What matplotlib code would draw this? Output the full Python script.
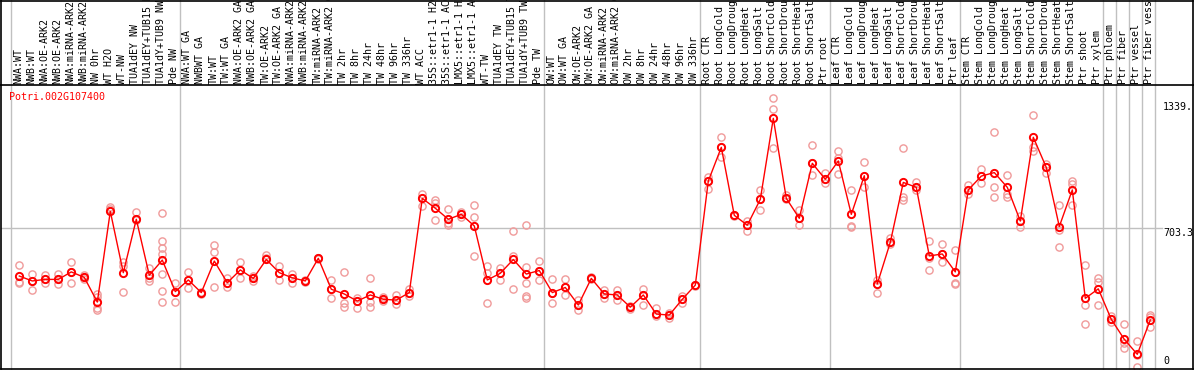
import matplotlib
matplotlib.use("Agg")
import matplotlib.pyplot as plt
from matplotlib.lines import Line2D
import matplotlib.transforms as mtransforms

gene_id = "Potri.002G107400"

samples = [
    "NWA:WT", "NWB:WT", "NWA:OE-ARK2", "NWB:OE-ARK2", "NWA:miRNA-ARK2", "NWB:miRNA-ARK2",
    "NW 0hr", "WT H2O", "WT-NW", "TUA1dEY NW", "TUA1dEY+TUB15 NW", "TUA1dY+TUB9 NW", "Pde NW",
    "NWA:WT GA", "NWBWT GA", "TW:WT", "TW:WT GA", "NWA:OE-ARK2 GA", "NWB:OE-ARK2 GA",
    "TW:OE-ARK2", "TW:OE-ARK2 GA", "NWA:miRNA-ARK2 GA", "NWB:miRNA-ARK2 GA", "TW:miRNA-ARK2",
    "TW:miRNA-ARK2 GA", "TW 2hr", "TW 8hr", "TW 24hr", "TW 48hr", "TW 96hr", "TW 336hr",
    "WT ACC", "35S::etr1-1 H2O", "35S::etr1-1 ACC", "LMX5::etr1-1 H2O", "LMX5::etr1-1 ACC",
    "WT-TW", "TUA1dEY TW", "TUA1dEY+TUB15 TW", "TUA1dY+TUB9 TW", "Pde TW",
    "OW:WT", "OW:WT GA", "OW:OE-ARK2", "OW:OE-ARK2 GA", "OW:miRNA-ARK2", "OW:miRNA-ARK2 GA",
    "OW 2hr", "OW 8hr", "OW 24hr", "OW 48hr", "OW 96hr", "OW 336hr",
    "Root CTR", "Root LongCold", "Root LongDrought", "Root LongHeat", "Root LongSalt",
    "Root ShortCold", "Root ShortDrought", "Root ShortHeat", "Root ShortSalt", "Ptr root",
    "Leaf CTR", "Leaf LongCold", "Leaf LongDrought", "Leaf LongHeat", "Leaf LongSalt",
    "Leaf ShortCold", "Leaf ShortDrought", "Leaf ShortHeat", "Leaf ShortSalt", "Ptr leaf",
    "Stem CTR", "Stem LongCold", "Stem LongDrought", "Stem LongHeat", "Stem LongSalt",
    "Stem ShortCold", "Stem ShortDrought", "Stem ShortHeat", "Stem ShortSalt", "Ptr shoot",
    "Ptr xylem", "Ptr phloem", "Ptr fiber", "Ptr vessel", "Ptr fiber vessel",
]

means = [
    461, 436, 444, 444, 482, 454, 329, 789, 478, 749, 465, 542, 382,
    441, 377, 537, 427, 492, 449, 545, 478, 452, 436, 551, 394, 370, 334, 365, 343, 339, 377,
    855, 805, 749, 774, 715, 441, 475, 545, 471, 489,
    377, 403, 314, 449, 370, 365, 303, 365, 268, 263, 343, 415,
    943, 1114, 769, 719, 850, 1261, 855, 754, 1033, 952,
    1045, 774, 970, 421, 632, 936, 911, 563, 573, 482,
    898, 968, 986, 911, 740, 1165, 1012, 712, 898, 348,
    396, 241, 140, 64, 238,
]

replicates = [
    [517, 433, 428], [471, 390, 436], [465, 424, 444], [470, 419, 444], [533, 428, 482],
    [465, 454, 445], [370, 353, 289, 298], [813, 802, 789], [533, 513, 380], [786, 745, 749],
    [503, 449, 438], [779, 640, 601, 574, 471, 385, 329], [424, 329, 382],
    [482, 398, 441], [377, 372, 382], [619, 582, 407], [449, 407, 427], [533, 451, 492],
    [461, 438, 449], [566, 554, 545], [513, 440, 478], [473, 424, 452], [436, 430, 441],
    [551, 548, 555], [440, 348, 394], [482, 322, 304], [348, 298, 334], [449, 331, 306],
    [353, 332, 343], [365, 318, 339], [394, 360, 377],
    [875, 817, 855], [847, 833, 745], [799, 731, 720], [788, 774, 760], [819, 759, 563],
    [513, 478, 322], [500, 441, 475], [688, 564, 394], [720, 505, 424, 360, 348], [536, 440, 489],
    [447, 322, 377], [445, 365, 403], [338, 287, 314], [449, 445, 455], [390, 348, 370],
    [390, 338, 365], [303, 296, 310], [395, 314, 365], [298, 258, 268], [275, 247, 263],
    [360, 326, 343], [412, 415, 418],
    [965, 905, 943], [1165, 1066, 1114], [769, 765, 773], [742, 688, 719], [898, 796, 850],
    [1363, 1309, 1109], [872, 855, 850], [796, 720, 754], [1126, 973, 1033], [982, 933, 952],
    [1097, 1058, 979], [898, 715, 708], [1038, 914, 970], [441, 373, 421], [652, 622, 632],
    [1109, 864, 847], [939, 898, 911], [638, 551, 492], [622, 534, 573], [593, 428, 419],
    [922, 877, 898], [1003, 931, 968], [1193, 911, 864], [973, 877, 861], [766, 712, 740],
    [1278, 1114, 1097], [1029, 982, 1012], [821, 694, 607], [945, 928, 821], [517, 314, 217],
    [449, 433, 314], [258, 229, 241], [217, 120, 94], [133, 59, 0], [263, 255, 201],
]

# group boundaries: a separator is drawn just after these sample indices
group_ends = [-1, 12, 40, 52, 62, 72, 83, 84, 85, 86, 87]

axis_labels = [(1339, "1339."), (703.3, "703.3"), (0, "0")]
ref_line = 703.3

W, H = 1194, 370
fig = plt.figure(figsize=(W / 100, H / 100), dpi=100)
fig.patch.set_facecolor("white")

# axes in pixel geometry
ax_l, ax_r, ax_t, ax_b = 1, 1193, 85, 369
ax = fig.add_axes([ax_l / W, 1 - ax_b / H, (ax_r - ax_l) / W, (ax_b - ax_t) / H])
pt0, step = 19.3, 13.0
ax.set_xlim((ax_l - pt0) / step, (ax_r - pt0) / step)
y0, k = 366.9, 0.1971
ax.set_ylim((y0 - ax_b) / k, (y0 - ax_t) / k)
ax.set_xticks([])
ax.set_yticks([])
for s in ax.spines.values():
    s.set_color("black")
    s.set_linewidth(1.2)

mono = "DejaVu Sans Mono"
grid_c = "#c0c0c0"

# vertical separators (extend through the label area)
ext = 1 + (ax_t - 0) / (ax_b - ax_t)
for g in group_ends:
    ax.axvline(g + 4.7 / step, ymin=0, ymax=ext, color=grid_c, lw=1.0, clip_on=False, zorder=1)

# horizontal reference line
ax.axhline(ref_line, xmin=0, xmax=(1162 - ax_l) / (ax_r - ax_l), color=grid_c, lw=1.0, zorder=1)

x = list(range(len(samples)))

# replicates
rx, ry = [], []
for i, reps in enumerate(replicates):
    for v in reps:
        rx.append(i)
        ry.append(v)
ax.plot(rx, ry, linestyle="none", marker="o", markersize=5.2, markerfacecolor="none",
        markeredgecolor="#f09a9a", markeredgewidth=1.0, zorder=2, clip_on=False)

# means
ax.plot(x, means, color="#ff0000", lw=1.0, marker="o", markersize=5.2,
        markerfacecolor="none", markeredgecolor="#ff0000", markeredgewidth=1.4, zorder=3)

# gene id
fig.text(9 / W, 1 - 97 / H, gene_id, color="#ff0000", fontsize=7.2, family=mono,
         ha="left", va="center")

# right-hand axis labels
for v, t in axis_labels:
    ypix = y0 - k * v
    if v == 0:
        fig.text(1163 / W, 1 - 365.5 / H, t, fontsize=7.2, family=mono, ha="left", va="bottom")
    else:
        fig.text(1163 / W, 1 - (ypix - 0.5) / H, t, fontsize=7.2, family=mono, ha="left", va="top")

# sample labels (rotated, clipped by the figure top)
trans = mtransforms.blended_transform_factory(ax.transData, fig.transFigure)
for i, lab in enumerate(samples):
    ax.text(i - 1.0 / step, 1 - 83.5 / H, lab, rotation=90, transform=trans, fontsize=7.2,
            family=mono, ha="center", va="bottom", clip_on=False,
            rotation_mode="default")

# outer frame of label area
fig.add_artist(Line2D([ax_l / W, ax_l / W], [1 - ax_t / H, 1.0], color="black", lw=1.2,
                      transform=fig.transFigure))
fig.add_artist(Line2D([ax_r / W, ax_r / W], [1 - ax_t / H, 1.0], color="black", lw=1.2,
                      transform=fig.transFigure))
fig.add_artist(Line2D([ax_l / W, ax_r / W], [1 - 0.5 / H, 1 - 0.5 / H], color="black", lw=1.2,
                      transform=fig.transFigure))

fig.savefig("out.png", dpi=100, facecolor="white")
